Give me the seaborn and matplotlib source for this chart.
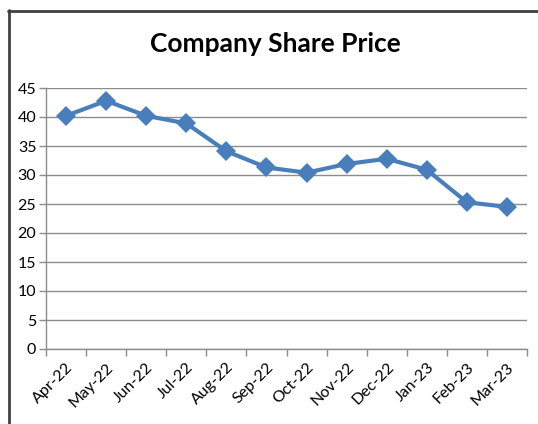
import numpy as np
import pandas as pd
import matplotlib
matplotlib.use('Agg')
import matplotlib.pyplot as plt
from matplotlib.lines import Line2D
import seaborn as sns

# Data
months = ['Apr-22', 'May-22', 'Jun-22', 'Jul-22', 'Aug-22', 'Sep-22',
          'Oct-22', 'Nov-22', 'Dec-22', 'Jan-23', 'Feb-23', 'Mar-23']
prices = [40.2, 42.8, 40.2, 38.9, 34.1, 31.3, 30.4, 31.9, 32.8, 30.9, 25.3, 24.5]
y_ticks = [0, 5, 10, 15, 20, 25, 30, 35, 40, 45]

sns.set_style('white')
plt.rcParams['font.family'] = ['Lato', 'DejaVu Sans']
plt.rcParams['text.color'] = 'black'
plt.rcParams['xtick.color'] = 'black'
plt.rcParams['ytick.color'] = 'black'

df = pd.DataFrame({'pos': np.arange(len(months)), 'price': prices})

W, H = 538, 424
fig = plt.figure(figsize=(W / 100, H / 100), dpi=100)
ax = fig.add_axes([46 / W, 1 - 349 / H, (527 - 46) / W, (349 - 88) / H])

sns.lineplot(data=df, x='pos', y='price', ax=ax, color='#4A7EBB',
             linewidth=3, marker='D', markersize=10, markeredgewidth=0)

ax.set_xlim(-0.5, len(months) - 0.5)
ax.set_ylim(0, 45)
ax.set_yticks(y_ticks)
ax.set_yticklabels([str(v) for v in y_ticks], fontsize=11.5)
ax.yaxis.grid(True, color='#8c8c8c', linewidth=1)
ax.set_axisbelow(True)

ax.set_xticks(np.arange(len(months)))
ax.set_xticklabels(months, rotation=45, ha='right', rotation_mode='anchor', fontsize=11.5)
ax.set_xticks(np.arange(len(months) + 1) - 0.5, minor=True)
ax.tick_params(axis='x', which='major', length=0, pad=8, labelcolor='black')
ax.tick_params(axis='x', which='minor', length=5, color='#8c8c8c', width=1, direction='out', bottom=True)
ax.tick_params(axis='y', length=5, color='#8c8c8c', width=1, direction='out', left=True, pad=2,
               labelcolor='black')

for side in ['top', 'right']:
    ax.spines[side].set_visible(False)
for side in ['left', 'bottom']:
    ax.spines[side].set_color('#8c8c8c')
    ax.spines[side].set_linewidth(1)

ax.set_xlabel('')
ax.set_ylabel('')

fig.text(275 / W, 1 - 44 / H, 'Company Share Price', ha='center', va='center',
         fontsize=19, fontweight='bold', color='black')

# outer chart frame (only top and left edges visible in the crop)
fig.add_artist(Line2D([8 / W, 1], [1 - 10.5 / H, 1 - 10.5 / H], color='#404040', linewidth=2))
fig.add_artist(Line2D([8.5 / W, 8.5 / W], [0, 1 - 10 / H], color='#404040', linewidth=2))

fig.savefig('out.png', dpi=100)
